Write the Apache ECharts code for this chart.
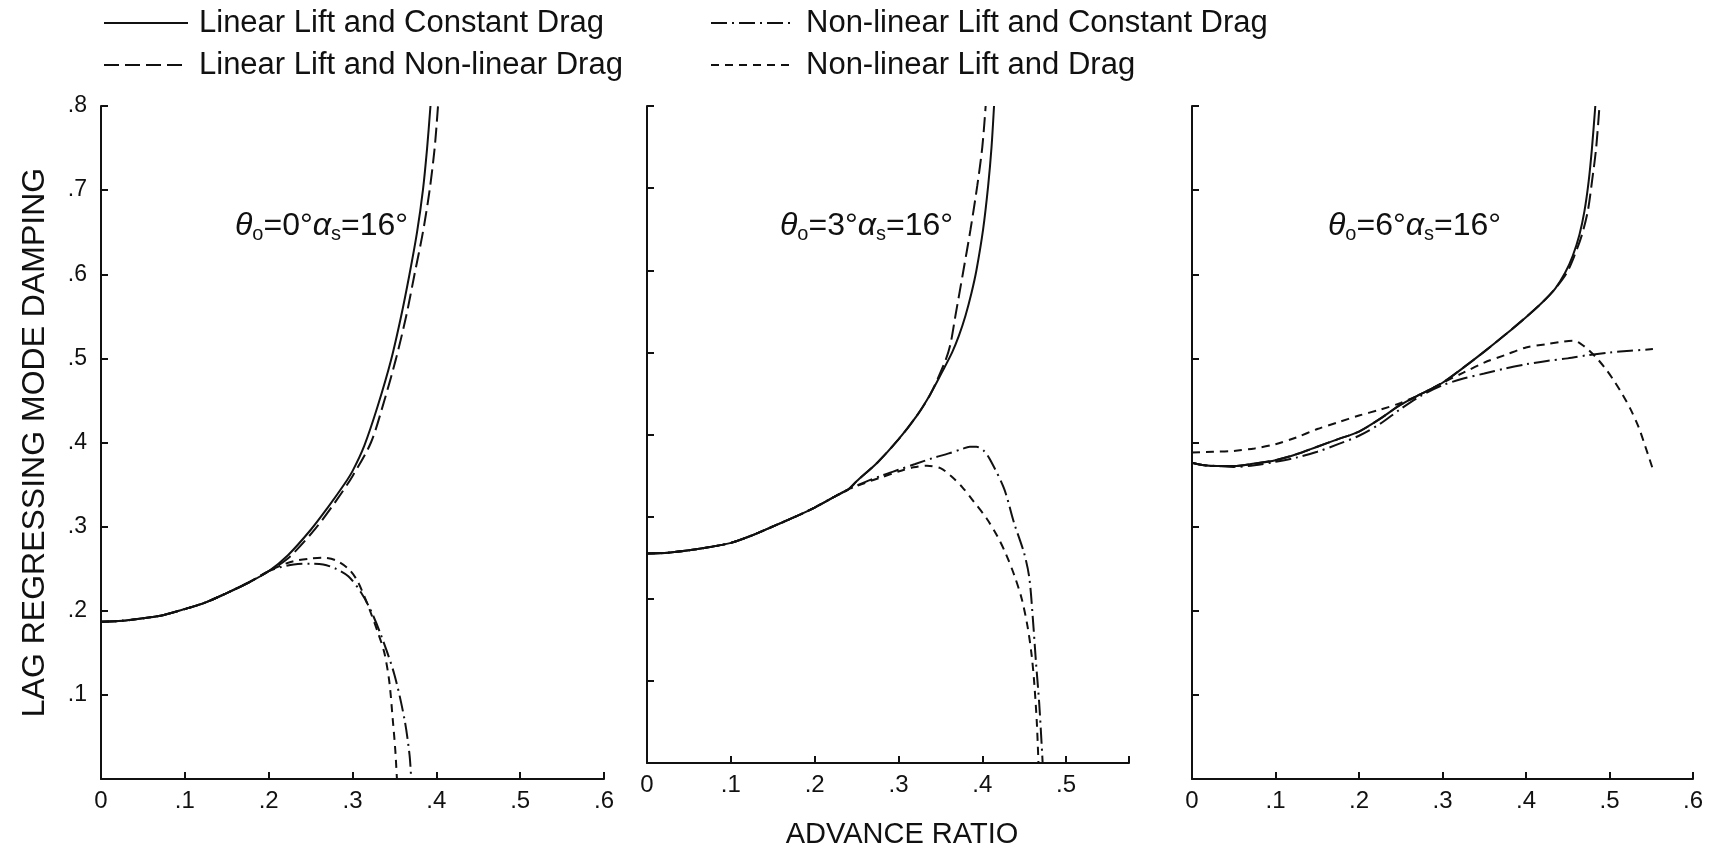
<!DOCTYPE html>
<html><head><meta charset="utf-8">
<script src="https://cdn.jsdelivr.net/npm/echarts@6/dist/echarts.min.js"></script>
<style>html,body{margin:0;padding:0;background:#fff}#c{width:1714px;height:854px}</style>
</head><body><div id="c"></div>
<script>
// ---------- data ----------
const seriesNames = ['Linear Lift and Constant Drag', 'Linear Lift and Non-linear Drag',
                     'Non-linear Lift and Constant Drag', 'Non-linear Lift and Drag'];
const panelTheta = ['0', '3', '6'];
const panelXMax = [0.6, 0.575, 0.6];
const xTickLabels = ['0', '.1', '.2', '.3', '.4', '.5', '.6'];
const yTickLabels = ['', '.1', '.2', '.3', '.4', '.5', '.6', '.7', '.8'];
const xAxisTitle = 'ADVANCE RATIO';
const yAxisTitle = 'LAG REGRESSING MODE DAMPING';

// panel 1 (theta0 = 0 deg)
const p1Base = [[0,.187],[.025,.188],[.05,.191],[.075,.195],[.1,.202],[.125,.21],[.15,.221],[.175,.233],[.2,.247]];
const p1LinConst = [[.223,.266],[.25,.296],[.27,.322],[.29,.35],[.3,.366],[.314,.396],[.33,.443],[.346,.498],[.358,.55],[.368,.6],[.377,.65],[.384,.7],[.389,.75],[.393,.8]];
const p1LinNl = [[.225,.264],[.256,.298],[.28,.33],[.3,.36],[.322,.4],[.338,.45],[.352,.5],[.364,.55],[.374,.6],[.384,.65],[.392,.7],[.398,.75],[.402,.8]];
const p1NlConst = [[.215,.252],[.23,.255],[.25,.256],[.265,.255],[.28,.25],[.295,.241],[.31,.222],[.322,.2],[.334,.171],[.35,.124],[.362,.071],[.368,.029],[.370,0]];
const p1NlNl = [[.215,.254],[.23,.259],[.25,.262],[.265,.263],[.28,.26],[.295,.25],[.305,.237],[.315,.215],[.322,.197],[.33,.175],[.338,.15],[.344,.115],[.348,.071],[.351,.035],[.353,0]];

// panel 2 (theta0 = 3 deg)
const p2Base = [[0,.255],[.025,.256],[.05,.259],[.075,.263],[.1,.268],[.125,.277],[.15,.288],[.175,.299],[.2,.311],[.225,.325],[.24,.333]];
const p2LinConst = [[.25,.343],[.275,.366],[.3,.394],[.322,.423],[.338,.449],[.352,.476],[.364,.5],[.372,.52],[.38,.545],[.387,.572],[.393,.6],[.401,.65],[.407,.703],[.411,.75],[.414,.8]];
const p2LinNl = [[.25,.343],[.275,.366],[.3,.394],[.322,.423],[.338,.449],[.356,.49],[.362,.51],[.368,.545],[.377,.597],[.386,.65],[.394,.703],[.4,.75],[.404,.8]];
const p2NlConst = [[.26,.342],[.28,.35],[.3,.357],[.32,.364],[.34,.371],[.36,.377],[.375,.382],[.385,.385],[.393,.385],[.402,.38],[.41,.368],[.426,.334],[.438,.292],[.45,.255],[.456,.226],[.46,.18],[.464,.123],[.468,.071],[.472,0]];
const p2NlNl = [[.26,.341],[.28,.348],[.3,.355],[.318,.36],[.334,.362],[.35,.359],[.362,.35],[.376,.336],[.39,.318],[.405,.298],[.418,.276],[.428,.255],[.438,.229],[.447,.2],[.454,.166],[.459,.13],[.462,.097],[.465,.05],[.467,0]];

// panel 3 (theta0 = 6 deg)
const p3Base = [[0,.376],[.015,.373],[.03,.372],[.05,.372],[.075,.375],[.1,.379],[.125,.386],[.15,.395],[.175,.404],[.2,.413],[.225,.428],[.25,.445],[.275,.458],[.3,.471],[.325,.489],[.35,.508],[.375,.528],[.4,.549],[.42,.567],[.435,.583]];
const p3LinConst = [[.447,.602],[.456,.622],[.464,.647],[.47,.675],[.475,.71],[.479,.75],[.483,.8]];
const p3LinNl = [[.449,.602],[.458,.622],[.467,.647],[.474,.675],[.479,.71],[.484,.75],[.488,.8]];
const p3NlConst = [[0,.376],[.015,.373],[.03,.372],[.05,.371],[.075,.373],[.1,.377],[.125,.382],[.15,.389],[.175,.398],[.2,.408],[.225,.422],[.25,.44],[.275,.456],[.3,.468],[.325,.476],[.35,.482],[.375,.488],[.4,.493],[.425,.497],[.45,.5],[.475,.504],[.5,.507],[.525,.509],[.552,.511]];
const p3NlNl = [[0,.388],[.025,.389],[.05,.39],[.075,.393],[.1,.398],[.125,.406],[.15,.416],[.175,.424],[.2,.432],[.225,.439],[.25,.447],[.275,.458],[.3,.471],[.325,.483],[.35,.495],[.375,.504],[.4,.513],[.425,.517],[.445,.52],[.457,.521],[.466,.517],[.475,.51],[.485,.5],[.495,.488],[.505,.474],[.515,.458],[.525,.44],[.535,.418],[.543,.395],[.552,.368]];

// ---------- build ----------
const FONT = 'Liberation Sans, Arial, sans-serif';
const INK = '#111';
const dashTypes = ['solid', [15, 6], [16, 5, 2, 5], [8, 6]];

const panels = [
  [p1Base.concat(p1LinConst), p1Base.concat(p1LinNl), p1Base.concat(p1NlConst), p1Base.concat(p1NlNl)],
  [p2Base.concat(p2LinConst), p2Base.concat(p2LinNl), p2Base.concat(p2NlConst), p2Base.concat(p2NlNl)],
  [p3Base.concat(p3LinConst), p3Base.concat(p3LinNl), p3NlConst, p3NlNl]
];

const gridBoxes = [
  {left: 101, top: 106, width: 503, height: 673},
  {left: 647, top: 106, width: 482, height: 673},
  {left: 1192, top: 106, width: 501, height: 673}
];

function tickIdx(v) { return Math.round(v * 10); }
function isTick(v) { return Math.abs(v * 10 - Math.round(v * 10)) < 1e-6; }

const grid = gridBoxes.map(g => Object.assign({containLabel: false}, g));
const xAxis = gridBoxes.map((g, i) => ({
  type: 'value', gridIndex: i, min: 0, max: panelXMax[i], interval: 0.1,
  axisLine: {show: true, lineStyle: {color: INK, width: 2}},
  axisTick: {show: true, inside: true, length: 7, lineStyle: {color: INK, width: 2}},
  splitLine: {show: false},
  axisLabel: {show: true, color: INK, fontFamily: FONT, fontSize: 24, margin: 10,
    showMaxLabel: true,
    formatter: v => isTick(v) ? (xTickLabels[tickIdx(v)] || '') : ''},
  name: i === 1 ? xAxisTitle : '', nameLocation: 'middle', nameGap: 57,
  nameTextStyle: {color: INK, fontFamily: FONT, fontSize: 29, padding: [0, 0, 0, 28]}
}));
const yAxis = gridBoxes.map((g, i) => ({
  type: 'value', gridIndex: i, min: 0, max: 0.8, interval: 0.1,
  axisLine: {show: true, lineStyle: {color: INK, width: 2}},
  axisTick: {show: true, inside: true, length: 7, lineStyle: {color: INK, width: 2}},
  splitLine: {show: false},
  axisLabel: {show: i === 0, color: INK, fontFamily: FONT, fontSize: 23, margin: 14,
    formatter: v => isTick(v) ? (yTickLabels[tickIdx(v)] || '') : ''},
  name: i === 0 ? yAxisTitle : '', nameLocation: 'middle', nameGap: 50, nameRotate: 90,
  nameTextStyle: {color: INK, fontFamily: FONT, fontSize: 32}
}));

const series = [];
panels.forEach((curves, pi) => {
  curves.forEach((data, si) => {
    series.push({
      type: 'line', name: seriesNames[si], xAxisIndex: pi, yAxisIndex: pi,
      data: data, showSymbol: false, symbol: 'none', smooth: 0.3, clip: true,
      lineStyle: {color: INK, width: 2, type: dashTypes[si]},
      itemStyle: {color: INK},
      emphasis: {disabled: true}, silent: true
    });
  });
});

const legendText = {color: INK, fontFamily: FONT, fontSize: 31, lineHeight: 32, padding: [0, 0, 0, 6]};
const legendCommon = {orient: 'vertical', top: 2, itemWidth: 84, itemHeight: 14, itemGap: 10,
  textStyle: legendText, selectedMode: false, itemStyle: {opacity: 0}};
const legend = [
  Object.assign({left: 98, data: [seriesNames[0], seriesNames[1]]}, legendCommon),
  Object.assign({left: 705, data: [seriesNames[2], seriesNames[3]]}, legendCommon)
];

const annX = [235, 780, 1328];
const rich = {
  g: {fontFamily: FONT, fontSize: 32, lineHeight: 36, fontStyle: 'italic', fill: INK, color: INK},
  a: {fontFamily: FONT, fontSize: 32, lineHeight: 36, fill: INK, color: INK},
  b: {fontFamily: FONT, fontSize: 20, lineHeight: 12, verticalAlign: 'bottom', fill: INK, color: INK}
};
const graphic = panelTheta.map((t, i) => ({
  type: 'text', left: annX[i], top: 210, silent: true,
  style: {text: '{g|θ}{b|o}{a|=' + t + '°}{g|α}{b|s}{a|=16°}', rich: rich, fill: INK}
}));

const chart = echarts.init(document.getElementById('c'), null, {renderer: 'canvas'});
chart.setOption({
  backgroundColor: '#fff', animation: false,
  grid, xAxis, yAxis, series, legend, graphic,
  tooltip: {show: false}
});
</script></body></html>
